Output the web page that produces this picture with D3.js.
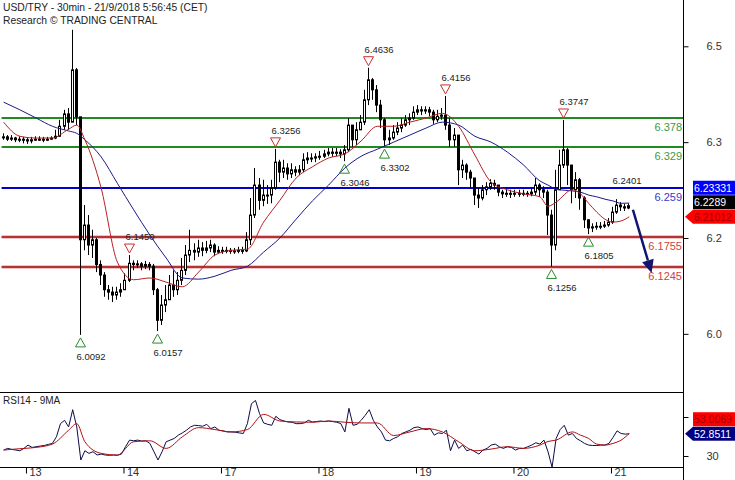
<!DOCTYPE html>
<html>
<head>
<meta charset="utf-8">
<script src="https://cdn.jsdelivr.net/npm/d3@7"></script>
<style>
body { margin: 0; background: #fff; }
svg { display: block; font-family: "Liberation Sans", Arial, sans-serif; }
.axis path { display: none; }
.axis line { stroke: #000; }
.axis text { fill: #333; font-size: 11px; }
</style>
</head>
<body>
<svg id="chart" width="735" height="480"></svg>
<script>
// USD/TRY 30min, one candle per hour slot (slot 0 = 12th 18:00)
var closes = [
  6.346,6.342,6.344,6.341,6.342,6.341,6.339,6.341,6.342,6.342,
  6.341,6.342,6.344,6.347,6.364,6.385,6.371,6.460,6.380,6.171,
  6.196,6.162,6.171,6.129,6.111,6.086,6.082,6.077,6.082,6.086,
  6.102,6.131,6.129,6.130,6.126,6.129,6.126,6.086,6.034,6.060,
  6.069,6.094,6.086,6.102,6.119,6.145,6.153,6.150,6.157,6.153,
  6.157,6.162,6.150,6.153,6.152,6.153,6.152,6.152,6.153,6.152,
  6.171,6.213,6.264,6.238,6.247,6.247,6.259,6.303,6.286,6.293,
  6.283,6.290,6.286,6.290,6.307,6.310,6.310,6.312,6.313,6.317,
  6.320,6.318,6.320,6.317,6.324,6.366,6.341,6.358,6.371,6.409,
  6.443,6.426,6.400,6.375,6.341,6.344,6.354,6.361,6.366,6.375,
  6.378,6.388,6.392,6.390,6.392,6.388,6.375,6.381,6.383,6.366,
  6.341,6.349,6.290,6.298,6.286,6.276,6.247,6.242,6.256,6.261,
  6.267,6.264,6.252,6.249,6.250,6.249,6.250,6.249,6.250,6.249,
  6.252,6.264,6.256,6.252,6.213,6.162,6.256,6.298,6.324,6.298,
  6.256,6.273,6.242,6.205,6.191,6.193,6.194,6.194,6.196,6.201,
  6.218,6.230,6.227,6.225,6.2289
];
var highs = [
  6.352,6.349,6.349,6.346,6.347,6.346,6.344,6.346,6.347,6.347,
  6.346,6.346,6.347,6.358,6.375,6.392,6.395,6.528,6.463,6.380,
  6.230,6.213,6.188,6.174,6.136,6.116,6.094,6.091,6.091,6.097,
  6.114,6.1450,6.136,6.136,6.133,6.135,6.133,6.130,6.089,6.077,
  6.094,6.111,6.119,6.116,6.140,6.162,6.188,6.165,6.171,6.167,
  6.169,6.171,6.165,6.160,6.159,6.159,6.157,6.157,6.159,6.159,
  6.184,6.242,6.293,6.276,6.273,6.264,6.273,6.3256,6.307,6.307,
  6.301,6.301,6.296,6.298,6.318,6.320,6.318,6.318,6.322,6.324,
  6.327,6.327,6.327,6.325,6.332,6.378,6.366,6.371,6.383,6.426,
  6.4636,6.446,6.434,6.409,6.378,6.358,6.366,6.371,6.378,6.383,
  6.386,6.398,6.400,6.398,6.398,6.397,6.392,6.392,6.395,6.4156,
  6.378,6.361,6.341,6.307,6.301,6.290,6.276,6.259,6.264,6.269,
  6.274,6.273,6.264,6.256,6.257,6.256,6.256,6.256,6.256,6.254,
  6.259,6.276,6.267,6.262,6.256,6.222,6.290,6.324,6.3747,6.327,
  6.298,6.286,6.276,6.245,6.205,6.199,6.201,6.201,6.203,6.208,
  6.227,6.2401,6.235,6.232,6.233
];
var lows = [
  6.341,6.339,6.339,6.337,6.337,6.335,6.334,6.335,6.339,6.339,
  6.337,6.339,6.341,6.342,6.346,6.358,6.358,6.371,6.366,6.0092,
  6.153,6.145,6.140,6.116,6.094,6.074,6.069,6.065,6.069,6.074,
  6.086,6.099,6.119,6.123,6.119,6.121,6.119,6.077,6.0157,6.026,
  6.048,6.069,6.074,6.077,6.094,6.111,6.133,6.136,6.142,6.143,
  6.148,6.150,6.143,6.147,6.147,6.148,6.147,6.147,6.148,6.147,
  6.150,6.162,6.208,6.222,6.228,6.232,6.233,6.256,6.269,6.276,
  6.273,6.276,6.279,6.281,6.286,6.300,6.303,6.303,6.307,6.310,
  6.313,6.312,6.313,6.310,6.3046,6.320,6.329,6.332,6.358,6.366,
  6.400,6.409,6.388,6.361,6.3302,6.332,6.341,6.349,6.354,6.363,
  6.366,6.375,6.383,6.383,6.385,6.381,6.368,6.371,6.375,6.358,
  6.329,6.329,6.264,6.276,6.273,6.259,6.230,6.225,6.238,6.247,
  6.256,6.256,6.245,6.242,6.244,6.242,6.244,6.244,6.245,6.244,
  6.245,6.247,6.244,6.242,6.179,6.1256,6.153,6.256,6.293,6.264,
  6.233,6.242,6.222,6.191,6.1805,6.184,6.188,6.189,6.191,6.193,
  6.198,6.215,6.220,6.220,6.223
];

// moving averages, read every few slots
var maIdx = [0,4,8,12,16,18,20,24,28,32,36,40,44,48,52,56,60,64,68,72,76,80,84,88,92,96,
  100,104,108,112,116,120,124,128,132,134,136,140,142,144,146,148,150,152,154];
var maFast = [6.371,6.347,6.344,6.344,6.359,6.366,6.341,6.259,6.133,6.103,6.106,6.099,6.091,6.116,
  6.145,6.153,6.155,6.201,6.238,6.276,6.295,6.310,6.317,6.339,6.364,6.364,6.371,6.378,6.386,6.364,
  6.315,6.269,6.256,6.249,6.244,6.228,6.235,6.256,6.249,6.233,6.218,6.206,6.201,6.203,6.2101];
var maSlow = [6.405,6.392,6.378,6.364,6.356,6.352,6.341,6.312,6.267,6.222,6.179,6.140,6.106,6.104,
  6.109,6.119,6.126,6.150,6.174,6.206,6.237,6.264,6.293,6.313,6.325,6.337,6.349,6.361,6.371,6.366,
  6.347,6.337,6.320,6.298,6.271,6.264,6.257,6.254,6.252,6.247,6.244,6.240,6.237,6.233,6.2333];

var rsi = [
  36.1,37.8,36.8,36.1,35.4,37.8,41.2,38.8,39.5,40.2,
  40.8,41.9,42.9,49.7,63.2,66.6,59.8,77.5,59.8,25.9,
  35.4,32.7,34.4,31.0,32.0,31.0,30.7,31.0,30.7,32.0,
  39.5,46.3,45.6,46.3,45.3,45.6,42.9,34.4,25.9,34.4,
  44.6,46.3,48.0,51.4,53.7,56.4,59.8,61.5,61.2,60.5,
  62.5,58.1,59.8,56.4,55.8,54.7,54.7,54.4,53.7,53.1,
  63.2,83.6,87.0,73.4,63.9,62.5,61.5,70.7,67.3,65.9,
  64.9,64.6,63.2,63.2,63.9,66.6,64.9,65.3,65.9,65.3,
  65.9,65.3,64.6,63.2,54.7,78.9,61.5,62.5,66.6,71.7,
  77.5,66.6,59.8,54.7,46.3,45.6,48.0,49.7,53.1,54.7,
  56.4,59.1,59.8,58.1,57.1,58.1,51.4,53.7,53.1,56.4,
  35.4,46.3,37.8,41.2,35.4,36.8,34.4,32.0,36.1,37.8,
  41.2,42.2,39.5,37.8,39.5,38.8,36.1,37.8,37.8,39.5,
  41.2,43.6,42.2,46.3,34.4,18.5,48.0,57.1,61.5,51.4,
  53.1,48.0,45.6,42.9,41.2,40.8,40.8,41.2,41.2,42.9,
  49.0,55.8,53.1,52.4,52.85
];
var rsiMa = [36.1,37.5,38.8,42.2,56.4,63.2,44.6,32.7,31.0,44.6,45.6,37.8,49.7,59.1,57.1,54.7,
  57.1,72.7,65.9,64.9,64.6,65.9,64.6,63.9,63.9,51.0,54.7,58.1,54.7,44.6,35.4,37.1,39.5,37.8,
  41.2,44.9,46.3,54.7,51.4,48.0,42.2,41.2,42.9,46.3,53.0];

var dayIdx = [6, 30, 54, 78, 102, 126, 150];
var dayLabels = ["13", "14", "17", "18", "19", "20", "21"];
var priceTicks = [6.5, 6.337, 6.174, 6.011];
var rsiTicks = [30, 70];
var rsiTickLabels = ["30", ""];   // the 70 label sits under the value tag

var levels = [6.378, 6.329, 6.259, 6.1755, 6.1245];
var levelLabels = ["6.378", "6.329", "6.259", "6.1755", "6.1245"];
var levelKinds = ["res", "res", "pivot", "sup", "sup"];

var markIdx = [19, 31, 38, 67, 84, 90, 94, 109, 135, 138, 144, 151];
var markType = ["low","high","low","high","low","high","low","high","low","high","low","text"];
var markText = ["6.0092","6.1450","6.0157","6.3256","6.3046","6.4636","6.3302","6.4156",
  "6.1256","6.3747","6.1805","6.2401"];

var arrowIdx = [155.4, 160];
var arrowPrice = [6.222, 6.1145];

var priceTags = [6.23331, 6.2289, 6.21012];
var priceTagText = ["6.23331", "6.2289", "6.21012"];
var rsiTags = [53.0069, 52.8511];
var rsiTagText = ["53.0069", "52.8511"];

var svg = d3.select("#chart");
var axisX = 683;

var x = d3.scaleLinear().domain([0, 168]).range([1.6, 684.1]);
var y = d3.scaleLinear().domain([6.0, 6.5]).range([340.3, 46.3]);
var yR = d3.scaleLinear().domain([30, 70]).range([456, 417]);

var defs = svg.append("defs");
defs.append("clipPath").attr("id", "clipP")
  .append("rect").attr("x", 0).attr("y", 0).attr("width", axisX).attr("height", 392);
defs.append("clipPath").attr("id", "clipR")
  .append("rect").attr("x", 0).attr("y", 392).attr("width", axisX).attr("height", 75);

// titles
svg.append("text").attr("x", 3).attr("y", 11).attr("font-size", "10.3px").attr("fill", "#222")
  .text("USD/TRY - 30min - 21/9/2018 5:56:45 (CET)");
svg.append("text").attr("x", 3).attr("y", 24).attr("font-size", "10.3px").attr("fill", "#222")
  .text("Research \u00A9 TRADING CENTRAL");

var gp = svg.append("g").attr("clip-path", "url(#clipP)");

// support / resistance levels
var lvlColor = { res: "#218a21", pivot: "#0000c8", sup: "#b23434" };
var lvlText = { res: "#3e9a3e", pivot: "#3a3ac8", sup: "#cc4444" };
levels.forEach(function (v, k) {
  var yy = Math.round(y(v));
  if (levelKinds[k] == "sup") {
    gp.append("line").attr("x1", x(0)).attr("x2", axisX).attr("y1", yy).attr("y2", yy)
      .attr("stroke", "#f0c4c4").attr("stroke-width", 4);
  }
  gp.append("line").attr("x1", x(0)).attr("x2", axisX).attr("y1", yy).attr("y2", yy)
    .attr("stroke", lvlColor[levelKinds[k]]).attr("stroke-width", 2);
  gp.append("text").attr("x", 682).attr("y", yy + 13).attr("text-anchor", "end")
    .attr("font-size", "11px").attr("fill", lvlText[levelKinds[k]]).text(levelLabels[k]);
});

// candles
closes.forEach(function (c, i) {
  var o = i > 0 ? closes[i - 1] : c;
  var hi = Math.max(highs[i], o, c), lo = Math.min(lows[i], o, c);
  var left = Math.round(x(i)) + 0.5;
  var cx = left + 1;
  gp.append("line").attr("x1", cx).attr("x2", cx).attr("y1", y(hi)).attr("y2", y(lo))
    .attr("stroke", "#000").attr("stroke-width", 1);
  var top = y(Math.max(o, c)), bot = y(Math.min(o, c));
  gp.append("rect").attr("x", left).attr("y", top).attr("width", 2)
    .attr("height", Math.max(1, bot - top))
    .attr("fill", c >= o ? "#fff" : "#000").attr("stroke", "#000").attr("stroke-width", 1);
});

// moving averages
var maLine = function (vals, sc) {
  return d3.line()
    .x(function (d, k) { return x(maIdx[k] + 0.5); })
    .y(function (d) { return sc(d); })
    .curve(d3.curveMonotoneX)(vals);
};
gp.append("path").attr("d", maLine(maSlow, y)).attr("fill", "none")
  .attr("stroke", "#1a1a8a").attr("stroke-width", 1);
gp.append("path").attr("d", maLine(maFast, y)).attr("fill", "none")
  .attr("stroke", "#b82020").attr("stroke-width", 1);

// markers
markIdx.forEach(function (i, k) {
  var cx = Math.round(x(i)) + 1.5;
  var t = markType[k];
  var v = t == "low" ? lows[i] : highs[i];
  var yy = y(v);
  if (t == "low") {
    gp.append("path").attr("d", "M" + cx + "," + (yy + 3) + "L" + (cx + 5) + "," + (yy + 12) +
        "L" + (cx - 5) + "," + (yy + 12) + "Z")
      .attr("fill", "none").attr("stroke", "#2a8a2a").attr("stroke-width", 1);
    gp.append("text").attr("x", cx - 4).attr("y", yy + 25).attr("font-size", "9.5px")
      .attr("fill", "#222").text(markText[k]);
  } else {
    if (t == "high") {
      gp.append("path").attr("d", "M" + cx + "," + (yy - 2) + "L" + (cx + 5) + "," + (yy - 11) +
          "L" + (cx - 5) + "," + (yy - 11) + "Z")
        .attr("fill", "none").attr("stroke", "#c83030").attr("stroke-width", 1);
    }
    gp.append("text").attr("x", cx - 4).attr("y", yy - 15).attr("font-size", "9.5px")
      .attr("fill", "#222").text(markText[k]);
  }
});

// projection arrow
(function () {
  var x1 = x(arrowIdx[0]), y1 = y(arrowPrice[0]);
  var x2 = x(arrowIdx[1]), y2 = y(arrowPrice[1]);
  var a = Math.atan2(y2 - y1, x2 - x1);
  var len = 13, hw = 6;
  var bx = x2 - len * Math.cos(a), by = y2 - len * Math.sin(a);
  gp.append("line").attr("x1", x1).attr("y1", y1).attr("x2", bx).attr("y2", by)
    .attr("stroke", "#14146e").attr("stroke-width", 2.5);
  gp.append("path").attr("d", "M" + x2 + "," + y2 +
      "L" + (bx + hw * Math.sin(a)) + "," + (by - hw * Math.cos(a)) +
      "L" + (bx - hw * Math.sin(a)) + "," + (by + hw * Math.cos(a)) + "Z")
    .attr("fill", "#14146e");
})();

// RSI panel
var gr = svg.append("g").attr("clip-path", "url(#clipR)");
gr.append("path").attr("d", d3.line()
    .x(function (d, i) { return x(i + 0.5); })
    .y(function (d) { return yR(d); })(rsi))
  .attr("fill", "none").attr("stroke", "#0c0c4a").attr("stroke-width", 1);
gr.append("path").attr("d", maLine(rsiMa, yR)).attr("fill", "none")
  .attr("stroke", "#b01010").attr("stroke-width", 1);
svg.append("text").attr("x", 3).attr("y", 404).attr("font-size", "10px").attr("fill", "#222")
  .text("RSI14 - 9MA");

// frame lines
svg.append("line").attr("x1", 0).attr("x2", axisX).attr("y1", 392.5).attr("y2", 392.5).attr("stroke", "#000");
svg.append("line").attr("x1", 0).attr("x2", axisX).attr("y1", 467.5).attr("y2", 467.5).attr("stroke", "#000");
svg.append("line").attr("x1", axisX + 0.5).attr("x2", axisX + 0.5).attr("y1", 0).attr("y2", 480).attr("stroke", "#000");

// axes
svg.append("g").attr("class", "axis").attr("transform", "translate(" + (axisX + 0.5) + ",0)")
  .call(d3.axisRight(y).tickValues(priceTicks).tickFormat(d3.format(".1f")).tickSize(5).tickPadding(18));
svg.append("g").attr("class", "axis").attr("transform", "translate(" + (axisX + 0.5) + ",0)")
  .call(d3.axisRight(yR).tickValues(rsiTicks)
    .tickFormat(function (d, k) { return rsiTickLabels[k]; }).tickSize(5).tickPadding(18));

var xa = svg.append("g").attr("class", "axis").attr("transform", "translate(0,467.5)")
  .call(d3.axisBottom(x).tickValues(dayIdx).tickFormat(function (d, k) { return dayLabels[k]; }).tickSize(6));
xa.selectAll(".tick text").attr("text-anchor", "start").attr("x", 3).attr("y", 1);

// value tags on the right
function tags(vals, texts, sc, styles) {
  var order = vals.map(function (v, k) { return k; }).sort(function (a, b) { return vals[a] - vals[b]; });
  var prev = null;
  order.forEach(function (k, n) {
    var cy = sc(vals[k]);
    if (prev !== null) cy = Math.min(cy, prev - 14.5);
    prev = cy;
    var st = styles[k];
    if (n == 0) {
      svg.append("path").attr("d", "M685," + cy + "L693," + (cy - 7) + "L693," + (cy + 7) + "Z")
        .attr("fill", st.bg);
    }
    svg.append("rect").attr("x", 693).attr("y", cy - 7).attr("width", 42).attr("height", 14)
      .attr("fill", st.bg);
    svg.append("text").attr("x", 694).attr("y", cy + 4).attr("font-size", "10.5px")
      .attr("fill", st.fg).text(texts[k]);
  });
}
tags(priceTags, priceTagText, y, [
  { bg: "#0000ff", fg: "#fff" }, { bg: "#000", fg: "#fff" }, { bg: "#ff0000", fg: "#a00000" }]);
tags(rsiTags, rsiTagText, yR, [
  { bg: "#ff0000", fg: "#a00000" }, { bg: "#000080", fg: "#fff" }]);
</script>
</body>
</html>
